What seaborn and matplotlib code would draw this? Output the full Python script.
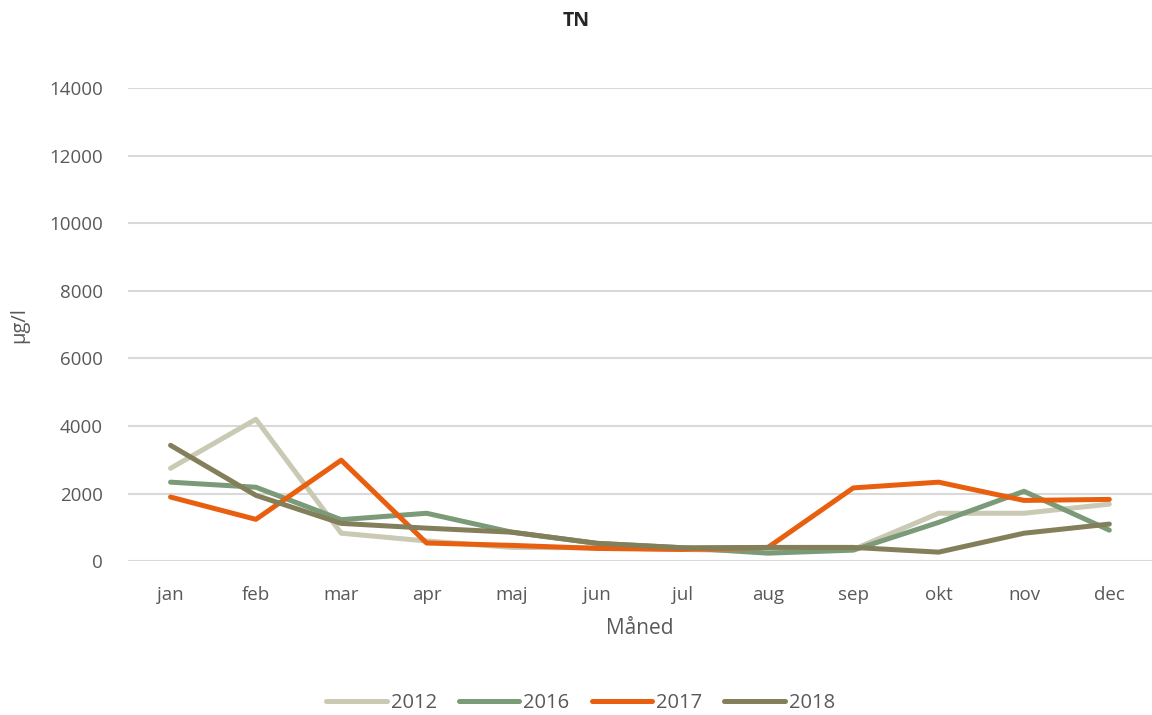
import pandas as pd
import matplotlib
matplotlib.use("Agg")
import matplotlib.pyplot as plt
import seaborn as sns

# Months and TN values (µg/l)
months = ["jan", "feb", "mar", "apr", "maj", "jun", "jul", "aug", "sep", "okt", "nov", "dec"]
years = ["2012", "2016", "2017", "2018"]
tn_2012 = [2750, 4200, 830, 600, 410, 400, 350, 300, 350, 1420, 1420, 1690]
tn_2016 = [2340, 2190, 1230, 1420, 860, 530, 400, 240, 330, 1150, 2070, 920]
tn_2017 = [1900, 1240, 2990, 540, 470, 380, 350, 410, 2170, 2340, 1800, 1830]
tn_2018 = [3430, 1950, 1120, 980, 860, 530, 400, 410, 410, 270, 830, 1100]
colors = ["#C9C9B4", "#7A9A78", "#E8600F", "#827F5A"]

# Long format for seaborn
df = pd.DataFrame({
    "month": months * 4,
    "year": [y for y in years for _ in months],
    "tn": tn_2012 + tn_2016 + tn_2017 + tn_2018,
})
df["pos"] = df["month"].map({m: i for i, m in enumerate(months)})

sns.set_style("white")
plt.rcParams["font.family"] = ["Open Sans", "DejaVu Sans"]

fig = plt.figure(figsize=(11.52, 7.15), dpi=100)
ax = fig.add_axes([0.111, 0.215, 0.889, 0.662])

sns.lineplot(data=df, x="pos", y="tn", hue="year", hue_order=years,
             palette=colors, linewidth=3.6, ax=ax, sort=False)

ax.set_xlim(-0.5, 11.5)
ax.set_ylim(0, 14000)
ax.set_yticks(range(0, 14001, 2000))
ax.set_xticks(range(12))
ax.set_xticklabels(months)
ax.yaxis.grid(True, color="#D9D9D9", linewidth=1.5)
ax.set_axisbelow(True)
for s in ax.spines.values():
    s.set_visible(False)
ax.tick_params(axis="both", length=0, labelsize=13.5, colors="#595959")
ax.tick_params(axis="x", pad=18)
ax.tick_params(axis="y", pad=18)

ax.set_xlabel("Måned", fontsize=15, color="#595959", labelpad=10)
ax.set_ylabel("µg/l", fontsize=14.5, color="#595959", labelpad=14)
fig.suptitle("TN", fontsize=14, fontweight="bold", y=0.985)

ax.legend(loc="center", bbox_to_anchor=(0.442, -0.30), ncol=4, frameon=False,
          fontsize=14.5, handlelength=3.0, handletextpad=0.2, columnspacing=1.1,
          labelcolor="#595959")

fig.savefig("out.png", dpi=100)
